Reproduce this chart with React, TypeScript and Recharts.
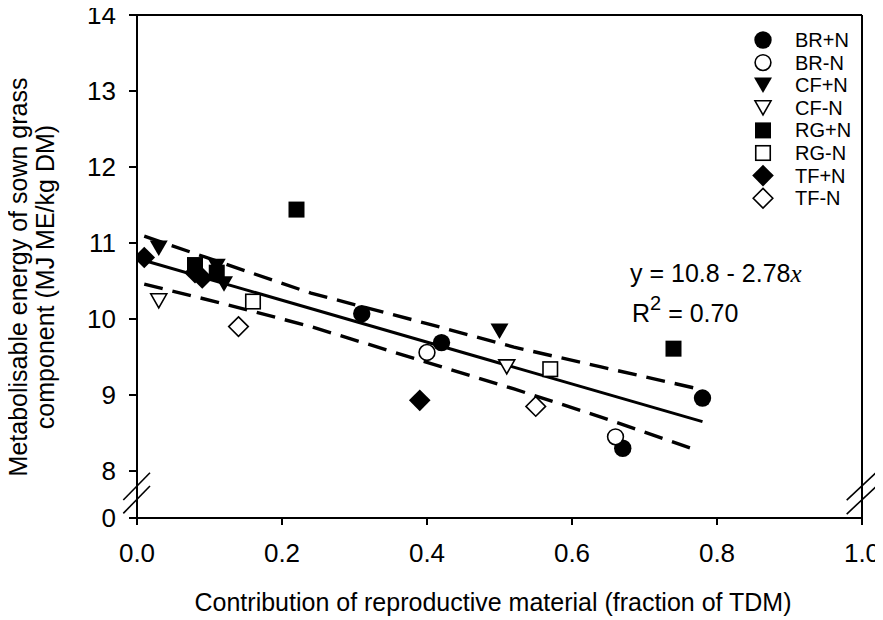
import React from 'react';
import { ScatterChart, Scatter, XAxis, YAxis, ReferenceLine, Legend } from 'recharts';

const FONT = '"Liberation Sans", Arial, Helvetica, sans-serif';
const SERIF = '"Liberation Serif", "Times New Roman", serif';

// ---- axes ----
const xTicks = [0, 0.2, 0.4, 0.6, 0.8, 1.0];
const yTickLabels = [0, 8, 9, 10, 11, 12, 13, 14];
// the y axis is broken between 0 and 8: 0 is drawn at this axis position
const Y_ZERO_ON_AXIS = 7.382;
const toAxisY = (v: number) => (v === 0 ? Y_ZERO_ON_AXIS : v);

// ---- data: [fraction reproductive, ME] ----
const brPlusN = [[0.31, 10.07], [0.42, 9.69], [0.67, 8.30], [0.78, 8.96]];
const brMinusN = [[0.40, 9.56], [0.66, 8.45]];
const cfPlusN = [[0.03, 10.93], [0.11, 10.69], [0.12, 10.46], [0.50, 9.84]];
const cfMinusN = [[0.03, 10.24], [0.51, 9.37]];
const rgPlusN = [[0.08, 10.71], [0.11, 10.61], [0.22, 11.44], [0.74, 9.61]];
const rgMinusN = [[0.16, 10.23], [0.57, 9.34]];
const tfPlusN = [[0.01, 10.81], [0.08, 10.61], [0.09, 10.54], [0.39, 8.93]];
const tfMinusN = [[0.14, 9.90], [0.55, 8.85]];

// regression and 95% confidence band
const regression = [[0.01, 10.77], [0.78, 8.65]];
const upperBand = [[0.01, 11.09], [0.12, 10.73], [0.24, 10.34], [0.40, 9.94], [0.52, 9.63], [0.64, 9.37], [0.77, 9.09]];
const lowerBand = [[0.01, 10.46], [0.12, 10.20], [0.24, 9.90], [0.40, 9.43], [0.52, 9.08], [0.64, 8.71], [0.77, 8.28]];

// axis-break marks (decoration), in data space
const breakMarksLeft = [
  [[-0.0189, 7.618], [0.0179, 7.978]],
  [[-0.0189, 7.443], [0.0179, 7.803]],
];
const breakMarksRight = [
  [[0.9789, 7.618], [1.0193, 7.978]],
  [[0.9789, 7.434], [1.0193, 7.794]],
];

const toPts = (arr: number[][]) => arr.map(([x, y]) => ({ x, y }));

type Kind = 'circle' | 'triangle' | 'square' | 'diamond';
const series: { name: string; data: number[][]; kind: Kind; filled: boolean }[] = [
  { name: 'BR+N', data: brPlusN, kind: 'circle', filled: true },
  { name: 'BR-N', data: brMinusN, kind: 'circle', filled: false },
  { name: 'CF+N', data: cfPlusN, kind: 'triangle', filled: true },
  { name: 'CF-N', data: cfMinusN, kind: 'triangle', filled: false },
  { name: 'RG+N', data: rgPlusN, kind: 'square', filled: true },
  { name: 'RG-N', data: rgMinusN, kind: 'square', filled: false },
  { name: 'TF+N', data: tfPlusN, kind: 'diamond', filled: true },
  { name: 'TF-N', data: tfMinusN, kind: 'diamond', filled: false },
];

function marker(kind: Kind, filled: boolean, cx: number, cy: number, key?: string) {
  const fill = filled ? '#000' : '#fff';
  const sw = filled ? 0 : 1.6;
  if (kind === 'circle') {
    return <circle key={key} cx={cx} cy={cy} r={filled ? 8.7 : 7.9} fill={fill} stroke="#000" strokeWidth={sw} />;
  }
  if (kind === 'triangle') {
    const w = filled ? 18 : 16;
    const h = filled ? 15.5 : 14;
    return (
      <polygon
        key={key}
        points={`${cx - w / 2},${cy - h / 2} ${cx + w / 2},${cy - h / 2} ${cx},${cy + h / 2}`}
        fill={fill}
        stroke="#000"
        strokeWidth={sw}
      />
    );
  }
  if (kind === 'square') {
    const s = filled ? 16 : 14.5;
    return <rect key={key} x={cx - s / 2} y={cy - s / 2} width={s} height={s} fill={fill} stroke="#000" strokeWidth={sw} />;
  }
  const d = filled ? 10.8 : 9.8;
  return (
    <polygon
      key={key}
      points={`${cx},${cy - d} ${cx + d},${cy} ${cx},${cy + d} ${cx - d},${cy}`}
      fill={fill}
      stroke="#000"
      strokeWidth={sw}
    />
  );
}

const renderLegend = () => (
  <svg width={140} height={200} style={{ display: 'block' }}>
    {series.map((s, i) => {
      const cy = 14 + i * 22.6;
      return (
        <g key={s.name}>
          {marker(s.kind, s.filled, 20, cy)}
          <text x={52} y={cy + 7} fontSize={20} fontFamily={FONT} fill="#000">
            {s.name}
          </text>
        </g>
      );
    })}
  </svg>
);

const YTitle = () => (
  <g>
    <text x={27} y={277} transform="rotate(-90 27 277)" textAnchor="middle" fontSize={25} fontFamily={FONT} fill="#000">
      Metabolisable energy of sown grass
    </text>
    <text x={54} y={277} transform="rotate(-90 54 277)" textAnchor="middle" fontSize={25} fontFamily={FONT} fill="#000">
      component (MJ ME/kg DM)
    </text>
  </g>
);

const XTitle = () => (
  <text x={493} y={611} textAnchor="middle" fontSize={25} fontFamily={FONT} fill="#000">
    Contribution of reproductive material (fraction of TDM)
  </text>
);

const W = 883;
const H = 620;

export default function App() {
  const axisLine = { stroke: '#000', strokeWidth: 2 };
  const tickStyle = { fontSize: 26, fontFamily: FONT, fill: '#000' };
  return (
    <div style={{ position: 'relative', width: W, height: H, margin: '-8px 0 0 -8px' }}>
      <style>{'html,body{overflow:hidden;}'}</style>
      <ScatterChart width={W} height={H} margin={{ top: 15, right: 21, left: 0, bottom: 0 }}>
        <XAxis
          type="number"
          dataKey="x"
          domain={[0, 1]}
          ticks={xTicks}
          tickFormatter={(v: number) => v.toFixed(1)}
          tick={tickStyle}
          tickSize={7}
          tickMargin={19}
          axisLine={axisLine}
          tickLine={axisLine}
          height={102}
          allowDataOverflow
          label={{ content: () => <XTitle /> }}
        />
        <YAxis
          type="number"
          dataKey="y"
          domain={[Y_ZERO_ON_AXIS, 14]}
          ticks={yTickLabels.map(toAxisY)}
          tickFormatter={(v: number) => (v < 8 ? '0' : String(v))}
          tick={tickStyle}
          tickSize={8}
          tickMargin={13}
          axisLine={axisLine}
          tickLine={axisLine}
          width={137}
          allowDataOverflow
          label={{ content: () => <YTitle /> }}
        />
        <ReferenceLine y={14} stroke="#000" strokeWidth={2} />
        <ReferenceLine x={1} stroke="#000" strokeWidth={2} />
        {[...breakMarksLeft, ...breakMarksRight].map((seg, i) => (
          <ReferenceLine
            key={'brk' + i}
            segment={seg.map(([x, y]) => ({ x, y }))}
            stroke="#000"
            strokeWidth={1.6}
            ifOverflow="visible"
          />
        ))}
        <Scatter
          name="upper"
          data={toPts(upperBand)}
          line={{ stroke: '#000', strokeWidth: 3.4, strokeDasharray: '19 10' }}
          shape={() => <g />}
          legendType="none"
          isAnimationActive={false}
        />
        <Scatter
          name="lower"
          data={toPts(lowerBand)}
          line={{ stroke: '#000', strokeWidth: 3.4, strokeDasharray: '19 10' }}
          shape={() => <g />}
          legendType="none"
          isAnimationActive={false}
        />
        <Scatter
          name="regression"
          data={toPts(regression)}
          line={{ stroke: '#000', strokeWidth: 3 }}
          shape={() => <g />}
          legendType="none"
          isAnimationActive={false}
        />
        {series.map((s) => (
          <Scatter
            key={s.name}
            name={s.name}
            data={toPts(s.data)}
            shape={(p: any) => marker(s.kind, s.filled, p.cx, p.cy)}
            isAnimationActive={false}
          />
        ))}
        <Legend
          layout="vertical"
          align="center"
          verticalAlign="middle"
          content={renderLegend}
          wrapperStyle={{ position: 'absolute', left: 743, top: 26, width: 140, height: 200 }}
        />
      </ScatterChart>
      <svg
        width={W}
        height={H}
        style={{ position: 'absolute', left: 0, top: 0, pointerEvents: 'none' }}
      >
        <text x={630} y={282} fontSize={25} fontFamily={FONT} fill="#000">
          y = 10.8 - 2.78
          <tspan fontFamily={SERIF} fontStyle="italic">x</tspan>
        </text>
        <text x={632} y={322} fontSize={25} fontFamily={FONT} fill="#000">
          R<tspan fontSize={20} dy={-12}>2</tspan>
          <tspan dy={12}> = 0.70</tspan>
        </text>
      </svg>
    </div>
  );
}
